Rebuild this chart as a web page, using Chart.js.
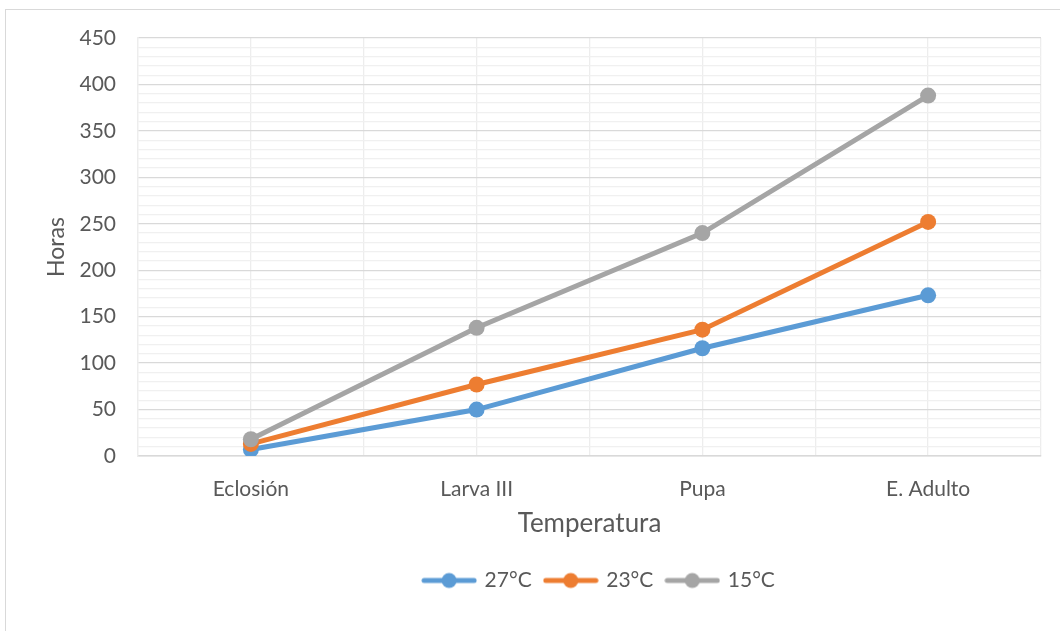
<!DOCTYPE html>
<html>
<head>
<meta charset="utf-8">
<script src="https://cdn.jsdelivr.net/npm/chart.js@4/dist/chart.umd.min.js"></script>
<style>
  html, body { margin: 0; padding: 0; background: #ffffff; }
  #wrap { position: relative; width: 1060px; height: 631px; overflow: hidden; }
  #frame { position: absolute; left: 5px; top: 9px; right: -10px; bottom: -10px;
           border-left: 1.5px solid #d9d9d9; border-top: 1.5px solid #d9d9d9; }
  canvas { position: absolute; left: 0; top: 0; }
</style>
</head>
<body>
<div id="wrap">
  <div id="frame"></div>
  <canvas id="c" width="1060" height="631"></canvas>
</div>
<script>
// Developmental stages and hours needed at each temperature
const stages = ['Eclosión', 'Larva III', 'Pupa', 'E. Adulto'];
const series27 = [7, 50, 116, 173];
const series23 = [13, 77, 136, 252];
const series15 = [18, 138, 240, 388];
const seriesNames = ['27°C', '23°C', '15°C'];
const seriesColors = ['#5B9BD5', '#ED7D31', '#A5A5A5'];
const yTicks = [0, 50, 100, 150, 200, 250, 300, 350, 400, 450];

const FONT = 'Lato, "Open Sans", sans-serif';
const TEXT = '#595959';

function toPoints(values) {
  return values.map((v, i) => ({ x: i, y: v }));
}

// Legend marker: a short line with a dot in the middle
function legendMarker(color) {
  const cv = document.createElement('canvas');
  cv.width = 56; cv.height = 18;
  const g = cv.getContext('2d');
  g.strokeStyle = color; g.lineWidth = 5; g.lineCap = 'round';
  g.beginPath(); g.moveTo(3, 9); g.lineTo(53, 9); g.stroke();
  g.fillStyle = color;
  g.beginPath(); g.arc(28, 9, 7.5, 0, Math.PI * 2); g.fill();
  return cv;
}

// Nudge the bottom legend so it sits slightly right of the plot centre
const legendShift = {
  id: 'legendShift',
  afterUpdate(chart) {
    const lg = chart.legend;
    if (!lg) return;
    lg.left = chart.chartArea.left + 10;
    lg.right = chart.chartArea.right + 10;
    lg.adjustHitBoxes();
  }
};

const allSeries = [series27, series23, series15];
const datasets = allSeries.map((vals, i) => ({
  label: seriesNames[i],
  data: toPoints(vals),
  borderColor: seriesColors[i],
  backgroundColor: seriesColors[i],
  borderWidth: 5,
  pointRadius: 8,
  pointHoverRadius: 8,
  pointBorderWidth: 0,
  tension: 0,
  order: 3 - i
}));

new Chart(document.getElementById('c'), {
  type: 'line',
  data: { datasets },
  plugins: [legendShift],
  options: {
    responsive: false,
    animation: false,
    layout: { padding: { left: 0, right: 19, top: 38, bottom: 30 } },
    plugins: {
      tooltip: { enabled: false },
      legend: {
        position: 'bottom',
        labels: {
          usePointStyle: true,
          pointStyleWidth: 50,
          padding: 14,
          color: TEXT,
          font: { family: FONT, size: 21 },
          generateLabels: (chart) => chart.data.datasets.map((ds, i) => ({
            text: ds.label,
            pointStyle: legendMarker(seriesColors[i]),
            fontColor: TEXT,
            datasetIndex: i,
            hidden: false,
            lineWidth: 0
          }))
        }
      }
    },
    scales: {
      x: {
        type: 'linear',
        min: -0.5,
        max: 3.5,
        afterBuildTicks: (scale) => {
          const t = [];
          for (let k = 0; k <= 8; k++) t.push({ value: -0.5 + k * 0.5 });
          scale.ticks = t;
        },
        afterFit: (scale) => {
          scale.height = 100;
          scale.paddingLeft = 0;
          scale.paddingRight = 0;
        },
        grid: { color: '#ededed', lineWidth: 1.3, drawTicks: false },
        border: { color: '#d9d9d9', width: 1.5 },
        ticks: {
          autoSkip: false,
          maxRotation: 0,
          padding: 21,
          color: TEXT,
          font: { family: FONT, size: 21 },
          callback: (v) => Number.isInteger(v) ? stages[v] : ''
        },
        title: {
          display: true,
          text: 'Temperatura',
          color: TEXT,
          font: { family: FONT, size: 26 },
          padding: { top: 0, bottom: 17 }
        }
      },
      y: {
        min: 0,
        max: 450,
        afterBuildTicks: (scale) => {
          const t = [];
          for (let v = 0; v <= 450; v += 10) t.push({ value: v });
          scale.ticks = t;
        },
        afterFit: (scale) => { scale.width = 138; },
        grid: {
          drawTicks: false,
          lineWidth: 1.3,
          color: (ctx) => (yTicks.includes(ctx.tick.value) ? '#d9d9d9' : '#f0f0f0')
        },
        border: { color: '#ededed', width: 1.3 },
        ticks: {
          autoSkip: false,
          padding: 22,
          color: TEXT,
          font: { family: FONT, size: 21 },
          callback: (v) => yTicks.includes(v) ? String(v) : ''
        },
        title: {
          display: true,
          text: 'Horas',
          color: TEXT,
          font: { family: FONT, size: 23 },
          padding: { top: 43, bottom: 0 }
        }
      }
    }
  }
});
</script>
</body>
</html>
